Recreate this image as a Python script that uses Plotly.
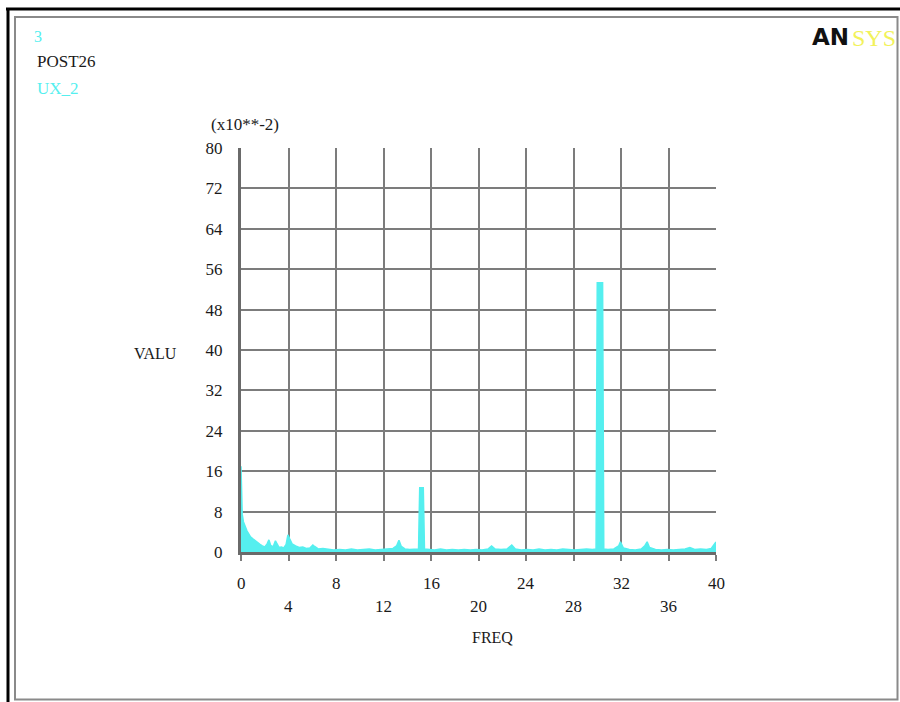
import plotly.graph_objects as go

# ---------------- data ----------------
FREQ = [
    0.0, 0.1, 0.2, 0.35, 0.5, 0.65, 0.8, 1.0, 1.2, 1.4,
    1.6, 1.8, 2.0, 2.2, 2.35, 2.5, 2.7, 2.9, 3.05, 3.2,
    3.4, 3.6, 3.8, 3.95, 4.1, 4.3, 4.6, 4.9, 5.2, 5.5,
    5.8, 6.05, 6.2, 6.5, 6.9, 7.3, 7.8, 8.3, 8.8, 9.3,
    9.8, 10.3, 10.8, 11.3, 11.8, 12.3, 12.8, 13.1, 13.3, 13.5,
    13.8, 14.2, 14.6, 14.95, 15.05, 15.35, 15.45, 15.8, 16.3, 16.8,
    17.3, 17.8, 18.3, 18.8, 19.3, 19.8, 20.3, 20.8, 21.1, 21.4,
    21.9, 22.4, 22.8, 23.1, 23.6, 24.1, 24.6, 25.1, 25.6, 26.1,
    26.6, 27.1, 27.6, 28.1, 28.6, 29.1, 29.6, 29.9, 30.0, 30.45,
    30.55, 30.9, 31.4, 31.8, 31.95, 32.2, 32.7, 33.2, 33.7, 34.0,
    34.2, 34.4, 34.9, 35.4, 35.9, 36.4, 36.9, 37.4, 37.8, 38.2,
    38.7, 39.2, 39.6, 39.85, 40.0,
]
UX_2 = [
    17.0, 7.5, 6.0, 5.0, 4.2, 3.6, 3.0, 2.6, 2.2, 1.8,
    1.5, 1.2, 1.0, 1.6, 2.4, 1.3, 1.0, 2.2, 1.6, 0.9,
    1.0, 0.8, 1.5, 3.4, 2.6, 1.6, 1.2, 0.9, 1.0, 0.7,
    0.8, 1.4, 1.1, 0.6, 0.7, 0.5, 0.4, 0.5, 0.4, 0.6,
    0.4, 0.5, 0.6, 0.4, 0.5, 0.6, 0.7, 1.2, 2.3, 1.1,
    0.6, 0.5, 0.6, 0.6, 12.7, 12.7, 0.6, 0.5, 0.4, 0.6,
    0.4, 0.5, 0.4, 0.5, 0.4, 0.5, 0.4, 0.6, 1.2, 0.6,
    0.5, 0.6, 1.4, 0.6, 0.4, 0.5, 0.4, 0.6, 0.4, 0.5,
    0.4, 0.6, 0.5, 0.4, 0.5, 0.6, 0.5, 0.6, 53.3, 53.3,
    0.6, 0.5, 0.6, 1.2, 2.0, 0.8, 0.5, 0.4, 0.6, 1.2,
    2.0, 0.9, 0.5, 0.4, 0.5, 0.4, 0.5, 0.6, 0.9, 0.5,
    0.6, 0.5, 0.7, 1.4, 2.0,
]
X_TICKS = [0, 4, 8, 12, 16, 20, 24, 28, 32, 36, 40]
Y_TICKS = [0, 8, 16, 24, 32, 40, 48, 56, 64, 72, 80]

# ---------------- layout geometry ----------------
W, H = 900, 702
L, R, T, B = 241, 716, 148, 552
PW, PH = R - L, B - T


def px(x):
    return (x - L) / PW


def py(y):
    return (B - y) / PH


SERIF = "Liberation Serif"
CYAN = "#55efef"
GRID = "#7c7c7c"
INK = "#1a1a1a"

fig = go.Figure()
fig.add_trace(go.Scatter(
    x=FREQ, y=UX_2, mode="lines",
    line=dict(color=CYAN, width=1.5),
    fill="tozeroy", fillcolor=CYAN,
    showlegend=False, hoverinfo="skip",
))

annotations = []
# x tick labels, alternating rows
for i, v in enumerate(X_TICKS):
    row_y = 583 if i % 2 == 0 else 606
    annotations.append(dict(
        x=v, xref="x", y=py(row_y), yref="paper", text=str(v),
        showarrow=False, font=dict(family=SERIF, size=17, color=INK),
        xanchor="center", yanchor="middle",
    ))

texts = [
    ("3", 32, 37, CYAN, "left", 16),
    ("POST26", 35, 61, INK, "left", 17),
    ("UX_2", 35, 88, CYAN, "left", 17),
    ("(x10**-2)", 245, 125, INK, "center", 17),
    ("VALU", 155, 353, INK, "center", 16),
    ("FREQ", 492, 637, INK, "center", 16),
]
for t, x, y, c, anc, s in texts:
    annotations.append(dict(
        x=px(x), xref="paper", y=py(y), yref="paper", text=t,
        showarrow=False, font=dict(family=SERIF, size=s, color=c),
        xanchor=anc, yanchor="middle",
    ))

# ANSYS logo
annotations.append(dict(
    x=px(851), xref="paper", y=py(37), yref="paper", text="<b>AN</b>",
    showarrow=False, font=dict(family="DejaVu Sans", size=23, color="#111"),
    xanchor="right", yanchor="middle",
))
annotations.append(dict(
    x=px(850), xref="paper", y=py(38), yref="paper", text="SYS",
    showarrow=False, font=dict(family=SERIF, size=24, color="#f2f25a"),
    xanchor="left", yanchor="middle",
))

shapes = [
    # outer black border (top & left)
    dict(type="line", xref="paper", yref="paper", x0=px(6), x1=px(900), y0=py(9), y1=py(9),
         line=dict(color="#000", width=3)),
    dict(type="line", xref="paper", yref="paper", x0=px(8), x1=px(8), y0=py(8), y1=py(702),
         line=dict(color="#000", width=3)),
    # inner gray frame
    dict(type="rect", xref="paper", yref="paper", x0=px(15), x1=px(897.5), y0=py(17), y1=py(699.5),
         line=dict(color="#8a8a8a", width=2)),
]

fig.update_layout(
    width=W, height=H,
    margin=dict(l=L, r=W - R, t=T, b=H - B, pad=0),
    paper_bgcolor="white", plot_bgcolor="white",
    annotations=annotations, shapes=shapes,
    xaxis=dict(
        range=[0, 40], tickvals=X_TICKS, showticklabels=False,
        showgrid=True, gridcolor=GRID, gridwidth=2,
        zeroline=False, showline=True, linecolor="#6a6a6a", linewidth=3,
        mirror=False, ticks="outside", ticklen=6, tickcolor=GRID, tickwidth=2,
        fixedrange=True,
    ),
    yaxis=dict(
        range=[0, 80], tickvals=Y_TICKS, ticktext=[str(v) for v in Y_TICKS],
        showgrid=True, gridcolor=GRID, gridwidth=2,
        zeroline=False, showline=True, linecolor="#6a6a6a", linewidth=3,
        ticks="", ticklabelstandoff=12,
        tickfont=dict(family=SERIF, size=17, color=INK),
        fixedrange=True,
    ),
)

fig.write_html(
    "out.html",
    config={"displayModeBar": False},
    post_script="document.body.style.margin='0px';document.body.style.overflow='hidden';",
)
